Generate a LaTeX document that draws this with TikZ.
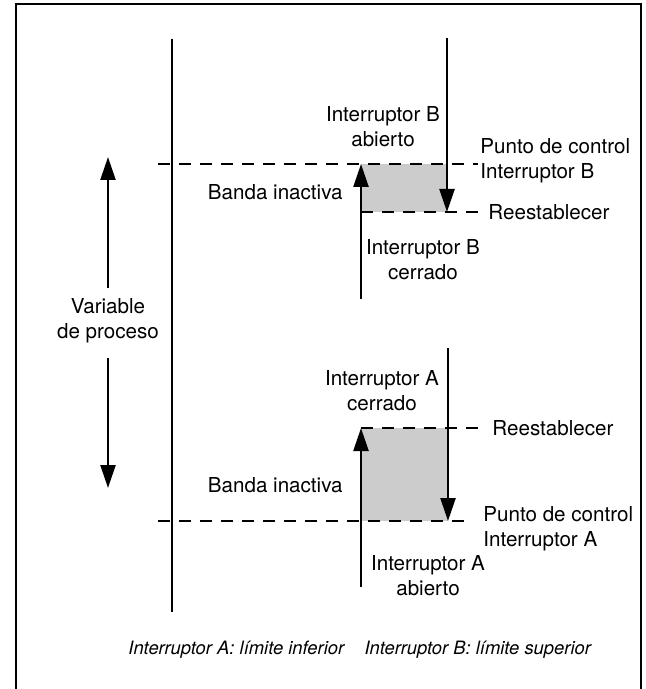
\documentclass[tikz,border=0pt]{standalone}
\usepackage{fontspec}
\setmainfont{TeX Gyre Heros}
\usetikzlibrary{arrows.meta}

\begin{document}
\begin{tikzpicture}[
  x=0.5pt, y=-0.5pt,
  font=\fontsize{10.3}{12.5}\selectfont,
  axis/.style={line width=1.2pt},
  flow/.style={line width=1.2pt, -{Triangle[length=11.5pt,width=7.5pt]}},
  band/.style={fill=black!20},
  limit/.style={line width=1.2pt, dash pattern=on 6pt off 4.5pt},
  lbl/.style={align=center, inner sep=0pt},
  side/.style={align=left, inner sep=0pt, anchor=west}
]
\useasboundingbox (0,0) rectangle (646,689);
\draw[line width=0.8pt] (16,689) -- (16,4) -- (641,4) -- (641,689);

% eje principal
\coordinate (axisTop) at (172,39);
\coordinate (axisBot) at (172,612);
\draw[axis] (axisTop) -- (axisBot);

% variable de proceso
\node[lbl] (pv) at (108,321) {Variable\\de proceso};
\coordinate (pvUpStart) at (108,288);
\coordinate (pvUpTip) at (108,157);
\coordinate (pvDnStart) at (108,358);
\coordinate (pvDnTip) at (108,488);
\draw[flow] (pvUpStart) -- (pvUpTip);
\draw[flow] (pvDnStart) -- (pvDnTip);

% interruptor B
\coordinate (bSetL) at (158,164);
\coordinate (bSetR) at (478,164);
\coordinate (bResL) at (361,212);
\coordinate (bResR) at (478,212);
\fill[band] (361,164) rectangle (447,212);
\draw[limit] (bSetL) -- (bSetR);
\draw[limit] (bResL) -- (bResR);
\coordinate (bDnStart) at (447,38);
\coordinate (bDnTip) at (447,212);
\coordinate (bUpStart) at (361,299);
\coordinate (bUpTip) at (361,164);
\draw[flow] (bDnStart) -- (bDnTip);
\draw[flow] (bUpStart) -- (bUpTip);
\node[lbl] (bOpen) at (383,127) {Interruptor B\\abierto};
\node[lbl] (bClosed) at (423,260) {Interruptor B\\cerrado};
\node[side] (bSetTxt) at (480,161) {Punto de control\\Interruptor B};
\node[side] (bResTxt) at (488,212) {Reestablecer};
\node[lbl, anchor=east] (bBand) at (343,192) {Banda inactiva};

% interruptor A
\coordinate (aResL) at (361,428);
\coordinate (aResR) at (478,428);
\coordinate (aSetL) at (158,521);
\coordinate (aSetR) at (467,521);
\fill[band] (361,428) rectangle (448,521);
\draw[limit] (aResL) -- (aResR);
\draw[limit] (aSetL) -- (aSetR);
\coordinate (aDnStart) at (448,348);
\coordinate (aDnTip) at (448,521);
\coordinate (aUpStart) at (361,587);
\coordinate (aUpTip) at (361,428);
\draw[flow] (aDnStart) -- (aDnTip);
\draw[flow] (aUpStart) -- (aUpTip);
\node[lbl] (aClosed) at (382,391) {Interruptor A\\cerrado};
\node[lbl] (aOpen) at (428,576) {Interruptor A\\abierto};
\node[side] (aSetTxt) at (483,529) {Punto de control\\Interruptor A};
\node[side] (aResTxt) at (492,428) {Reestablecer};
\node[lbl, anchor=east] (aBand) at (343,485) {Banda inactiva};

% pie
\node[lbl, anchor=west, font=\fontsize{9.2}{11}\selectfont\itshape] (foot) at (128,650)
  {Interruptor A: límite inferior\hspace{1.1em}Interruptor B: límite superior};
\end{tikzpicture}
\end{document}
